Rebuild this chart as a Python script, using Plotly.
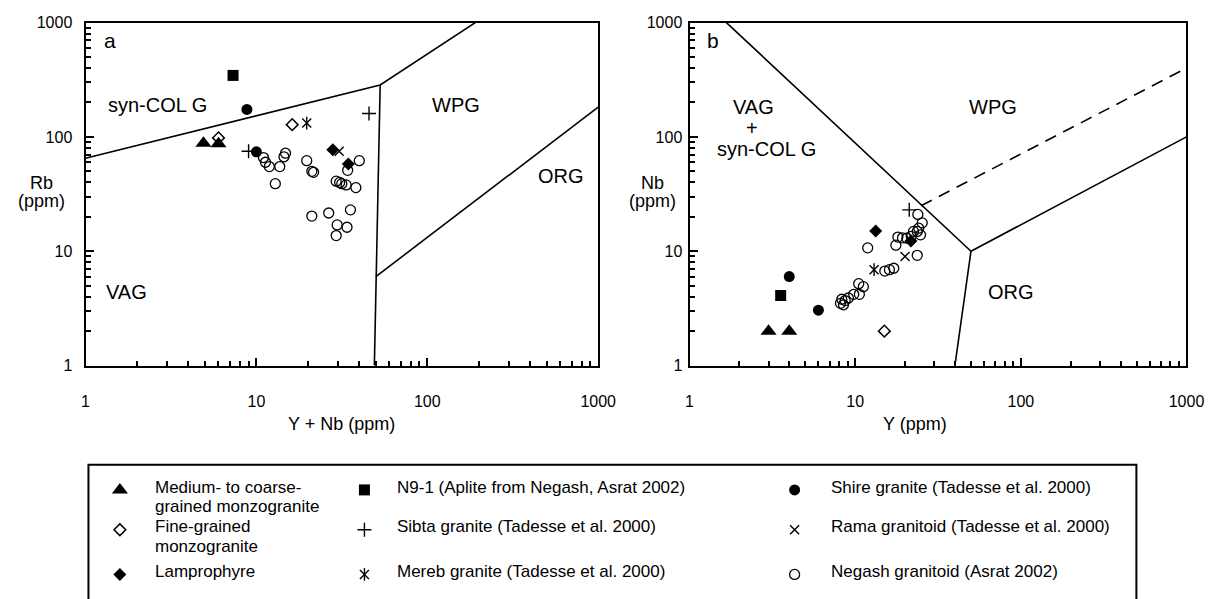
import plotly.graph_objects as go

W, H = 1231, 599
FONT = "Liberation Sans, Arial, sans-serif"

# ---------------- Rb vs (Y + Nb) ----------------
a_medium_x = [4.9, 6.0]
a_medium_y = [88, 87]
a_fine_x = [6.0, 16.2]
a_fine_y = [98, 128]
a_lamp_x = [28.0, 34.5]
a_lamp_y = [77, 58]
a_n91_x = [7.3]
a_n91_y = [345]
a_sibta_x = [9.0, 45.6]
a_sibta_y = [75, 160]
a_mereb_x = [19.7]
a_mereb_y = [132]
a_shire_x = [8.8, 10.0]
a_shire_y = [174, 74]
a_rama_x = [30.5]
a_rama_y = [75]
a_negash_x = [11.0, 11.3, 11.9, 13.7, 12.9, 14.5, 14.8, 19.7, 21.1, 21.6, 29.3, 30.7,
              31.6, 33.5, 38.2, 34.2, 40.0, 21.1, 26.5, 35.5, 29.7, 33.9, 29.3]
a_negash_y = [66, 60, 55, 55, 39, 67, 72, 62, 50, 49, 41, 40,
              39, 38, 36, 51, 62, 20.3, 21.6, 23, 17, 16.2, 13.7]

# ---------------- Nb vs Y ----------------
b_medium_x = [3.0, 4.0]
b_medium_y = [2.0, 2.0]
b_fine_x = [15.0]
b_fine_y = [2.0]
b_lamp_x = [13.3, 21.7]
b_lamp_y = [15.0, 12.3]
b_n91_x = [3.55]
b_n91_y = [4.1]
b_sibta_x = [21.2]
b_sibta_y = [23.0]
b_mereb_x = [13.0]
b_mereb_y = [6.9]
b_shire_x = [4.0, 6.0]
b_shire_y = [6.0, 3.05]
b_rama_x = [20.0]
b_rama_y = [9.0]
b_negash_x = [23.9, 25.4, 24.2, 23.7, 24.8, 22.5, 19.3, 18.1, 20.5, 21.8, 11.9, 17.6,
              23.7, 15.1, 16.1, 17.1, 10.5, 11.2, 10.6, 9.8, 8.3, 8.7, 8.15, 8.5, 9.1]
b_negash_y = [21.0, 17.7, 15.9, 14.9, 13.9, 14.9, 13.1, 13.3, 13.0, 13.5, 10.7, 11.3,
              9.2, 6.7, 6.9, 7.1, 5.2, 4.9, 4.2, 4.2, 3.8, 3.7, 3.5, 3.4, 3.9]

# ---------------- discrimination boundaries ----------------
a_syncol_x = [1, 53, 191]
a_syncol_y = [65, 285, 1000]
a_vag_wpg_x = [53, 50, 49]
a_vag_wpg_y = [285, 6, 1]
a_wpg_org_x = [50, 1000]
a_wpg_org_y = [6, 182]

b_vag_wpg_x = [1.67, 50, 40]
b_vag_wpg_y = [1000, 10, 1]
b_wpg_org_x = [50, 1000]
b_wpg_org_y = [10, 100]
b_dashed_x = [25, 1000]
b_dashed_y = [25, 400]

major_ticks = [1, 10, 100, 1000]
major_labels = ["1", "10", "100", "1000"]
minor_ticks = [m * d for d in (1, 10, 100) for m in range(2, 10)]

legend_labels = [
    ["Medium- to coarse-<br>grained monzogranite", "Fine-grained<br>monzogranite", "Lamprophyre"],
    ["N9-1 (Aplite from Negash, Asrat 2002)", "Sibta granite (Tadesse et al. 2000)",
     "Mereb granite (Tadesse et al. 2000)"],
    ["Shire granite (Tadesse et al. 2000)", "Rama granitoid (Tadesse et al. 2000)",
     "Negash granitoid (Asrat 2002)"],
]

# marker styles per group
BLK = "black"
ST = {
    "medium": dict(symbol="triangle-up", size=14, color=BLK),
    "fine": dict(symbol="diamond-open", size=9, color=BLK, line=dict(width=1.5, color=BLK)),
    "lamp": dict(symbol="diamond", size=10, color=BLK),
    "n91": dict(symbol="square", size=11, color=BLK),
    "sibta": dict(symbol="cross-thin-open", size=10, color=BLK, line=dict(width=1.4, color=BLK)),
    "mereb_x": dict(symbol="x-thin-open", size=9, color=BLK, line=dict(width=1.4, color=BLK)),
    "mereb_v": dict(symbol="line-ns-open", size=9, color=BLK, line=dict(width=1.4, color=BLK)),
    "shire": dict(symbol="circle", size=11, color=BLK),
    "rama": dict(symbol="x-thin-open", size=9, color=BLK, line=dict(width=1.4, color=BLK)),
    "negash": dict(symbol="circle-open", size=10, color=BLK, line=dict(width=1.3, color=BLK)),
}

fig = go.Figure()


def add_points(xs, ys, style, xa, ya):
    fig.add_trace(go.Scatter(x=xs, y=ys, mode="markers", marker=ST[style],
                             xaxis=xa, yaxis=ya, showlegend=False, hoverinfo="skip",
                             cliponaxis=False))


def add_line(xs, ys, xa, ya, dash="solid"):
    fig.add_trace(go.Scatter(x=xs, y=ys, mode="lines",
                             line=dict(color=BLK, width=1.6, dash=dash),
                             xaxis=xa, yaxis=ya, showlegend=False, hoverinfo="skip"))


# panel a
add_line(a_syncol_x, a_syncol_y, "x", "y")
add_line(a_vag_wpg_x, a_vag_wpg_y, "x", "y")
add_line(a_wpg_org_x, a_wpg_org_y, "x", "y")
add_points(a_negash_x, a_negash_y, "negash", "x", "y")
add_points(a_fine_x, a_fine_y, "fine", "x", "y")
add_points(a_medium_x, a_medium_y, "medium", "x", "y")
add_points(a_n91_x, a_n91_y, "n91", "x", "y")
add_points(a_sibta_x, a_sibta_y, "sibta", "x", "y")
add_points(a_mereb_x, a_mereb_y, "mereb_x", "x", "y")
add_points(a_mereb_x, a_mereb_y, "mereb_v", "x", "y")
add_points(a_shire_x, a_shire_y, "shire", "x", "y")
add_points(a_lamp_x, a_lamp_y, "lamp", "x", "y")
add_points(a_rama_x, a_rama_y, "rama", "x", "y")

# panel b
add_line(b_vag_wpg_x, b_vag_wpg_y, "x2", "y2")
add_line(b_wpg_org_x, b_wpg_org_y, "x2", "y2")
add_line(b_dashed_x, b_dashed_y, "x2", "y2", dash="12px,8px")
add_points(b_negash_x, b_negash_y, "negash", "x2", "y2")
add_points(b_fine_x, b_fine_y, "fine", "x2", "y2")
add_points(b_medium_x, b_medium_y, "medium", "x2", "y2")
add_points(b_n91_x, b_n91_y, "n91", "x2", "y2")
add_points(b_sibta_x, b_sibta_y, "sibta", "x2", "y2")
add_points(b_mereb_x, b_mereb_y, "mereb_x", "x2", "y2")
add_points(b_mereb_x, b_mereb_y, "mereb_v", "x2", "y2")
add_points(b_shire_x, b_shire_y, "shire", "x2", "y2")
add_points(b_lamp_x, b_lamp_y, "lamp", "x2", "y2")
add_points(b_rama_x, b_rama_y, "rama", "x2", "y2")

# legend keys on a hidden pixel-space overlay
LEG_KEY_X = [118, 367, 805]
LEG_TEXT_X = [152, 398, 840]
LEG_ROW_Y = [496, 537, 583]
LEG_LINE_GAP = 20
legend_styles = [["medium", "fine", "lamp"],
                 ["n91", "sibta", ["mereb_x", "mereb_v"]],
                 ["shire", "rama", "negash"]]
for c in range(3):
    for r in range(3):
        styles = legend_styles[c][r]
        if isinstance(styles, str):
            styles = [styles]
        for s in styles:
            fig.add_trace(go.Scatter(x=[LEG_KEY_X[c]], y=[LEG_ROW_Y[r]], mode="markers",
                                     marker=ST[s], xaxis="x3", yaxis="y3",
                                     showlegend=False, hoverinfo="skip", cliponaxis=False))


def px(x):
    return x / W


def py(y):
    return 1 - y / H


annotations = []


def label(text, x, y, size, anchor="center"):
    annotations.append(dict(text=text, x=px(x), y=py(y), xref="paper", yref="paper",
                            showarrow=False, xanchor=anchor, yanchor="middle",
                            font=dict(family=FONT, size=size, color=BLK)))


for c in range(3):
    for r in range(3):
        lines = legend_labels[c][r].split("<br>")
        for i, ln in enumerate(lines):
            label(ln, LEG_TEXT_X[c], LEG_ROW_Y[r] - 3 + i * LEG_LINE_GAP, 17, "left")

# field names
label("a", 108, 33, 21)
label("syn-COL G", 156, 100, 20)
label("WPG", 460, 100, 20)
label("ORG", 567, 173, 20)
label("VAG", 125, 292, 20)
label("b", 722, 33, 21)
label("VAG", 763, 102, 20)
label("+", 762, 123, 20)
label("syn-COL G", 776, 145, 20)
label("WPG", 1007, 102, 20)
label("ORG", 1025, 292, 20)

# axis titles
label("Rb", 38, 180, 18)
label("(ppm)", 38, 199, 18)
label("Nb", 660, 180, 18)
label("(ppm)", 660, 199, 18)
label("Y + Nb (ppm)", 344, 428, 18)
label("Y (ppm)", 928, 428, 18)


def log_axis(domain, anchor, standoff):
    return dict(type="log", range=[0, 3], domain=domain, anchor=anchor,
                showline=True, linecolor=BLK, linewidth=2, mirror=True,
                ticks="inside", ticklen=8, tickwidth=1.5, tickcolor=BLK,
                tickmode="array", tickvals=major_ticks, ticktext=major_labels,
                minor=dict(ticks="inside", ticklen=5, tickwidth=1.5, tickcolor=BLK,
                           tickmode="array", tickvals=minor_ticks, showgrid=False),
                showgrid=False, zeroline=False, ticklabelstandoff=standoff,
                tickfont=dict(family=FONT, size=16, color=BLK), fixedrange=True)


y_dom = [1 - 368 / H, 1 - 15 / H]
fig.update_layout(
    width=W, height=H, margin=dict(l=0, r=0, t=0, b=0),
    paper_bgcolor="white", plot_bgcolor="rgba(0,0,0,0)", showlegend=False,
    xaxis=log_axis([83 / W, 605 / W], "y", 20),
    yaxis=log_axis(y_dom, "x", 8),
    xaxis2=log_axis([698 / W, 1204 / W], "y2", 20),
    yaxis2=log_axis(y_dom, "x2", 2),
    xaxis3=dict(domain=[0, 1], range=[0, W], visible=False, anchor="y3", fixedrange=True),
    yaxis3=dict(domain=[0, 1], range=[H, 0], visible=False, anchor="x3", fixedrange=True),
    annotations=annotations,
    shapes=[dict(type="rect", xref="paper", yref="paper",
                 x0=px(86), x1=px(1153), y0=py(640), y1=py(470),
                 line=dict(color=BLK, width=2), fillcolor="rgba(0,0,0,0)")],
)

fig.write_html("out.html")
